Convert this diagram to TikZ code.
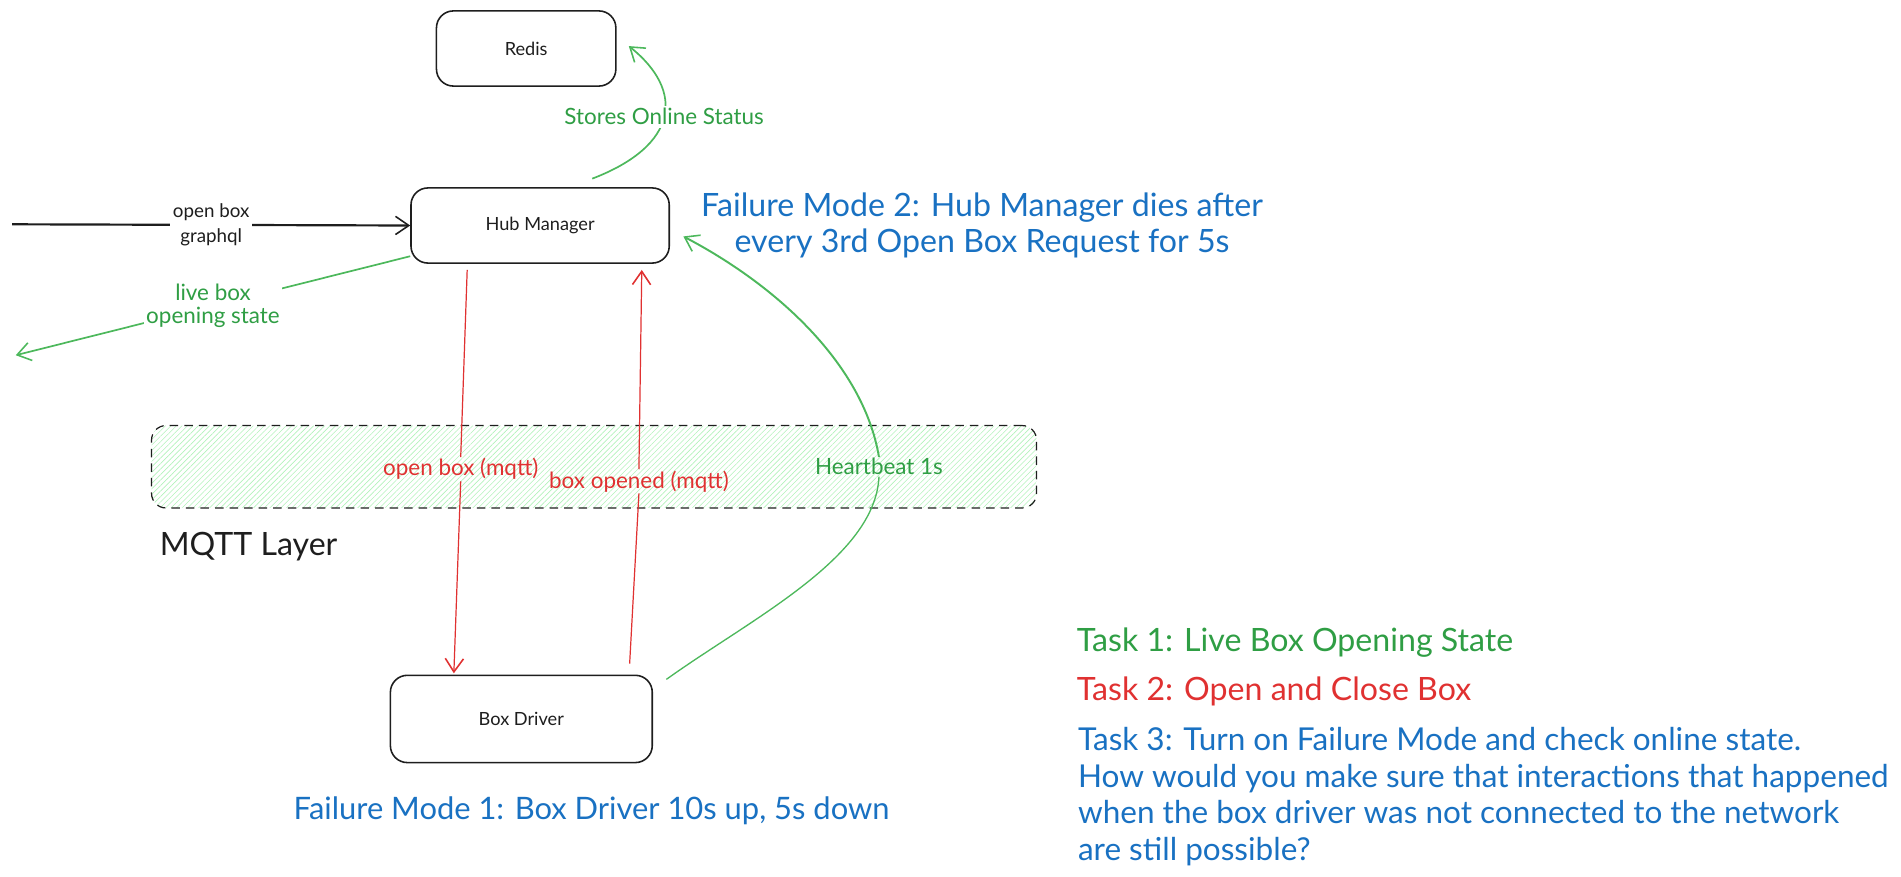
\documentclass[tikz,border=0pt]{standalone}
\usepackage{fontspec}
\setmainfont{Lato}
\usetikzlibrary{arrows.meta,patterns.meta}
\definecolor{strokec}{HTML}{1E1E1E}
\definecolor{tgreen}{HTML}{2F9E44}
\definecolor{lgreen}{HTML}{4DB85C}
\definecolor{tred}{HTML}{E03131}
\definecolor{tblue}{HTML}{1971C2}
\definecolor{hatchc}{HTML}{B2F2BB}
\begin{document}
\begin{tikzpicture}[x=1pt,y=-1pt,
  box/.style={draw=strokec, line width=1.3pt, rounded corners=14pt, fill=white,
    font=\fontsize{15}{18}\selectfont, text=strokec},
  barb/.style={-{Straight Barb[length=11pt,width=15pt,line width=1.3pt]}},
  lbl/.style={font=\fontsize{18.5}{21}\selectfont, align=center, inner sep=2pt},
  smalllbl/.style={font=\fontsize{15.5}{21}\selectfont, align=center, inner sep=2pt},
  bigtxt/.style={font=\fontsize{26.5}{30}\selectfont, inner sep=0pt},
]
\useasboundingbox (0,0) rectangle (1568,723);

% MQTT layer
\node[draw=strokec, dashed, dash pattern=on 7pt off 5pt, line width=1pt, rounded corners=12pt,
  pattern={Lines[angle=45,distance=3.2pt,line width=0.5pt]}, pattern color=hatchc,
  minimum width=730pt, minimum height=68pt] (mqtt) at (490,385) {};
\node[font=\fontsize{26.5}{30}\selectfont, text=strokec, inner sep=0pt] (mqttlbl) at (205,451) {MQTT Layer};

% boxes
\node[box, minimum width=148pt, minimum height=62pt] (redis) at (434,40) {Redis};
\node[box, minimum width=213pt, minimum height=62pt] (hub) at (445.5,186) {Hub Manager};
\node[box, minimum width=216pt, minimum height=72pt] (driver) at (430,593) {Box Driver};

% open box graphql input
\coordinate (in) at (10,185);
\draw[strokec, line width=1.8pt, barb] (in) -- node[smalllbl, fill=white, text=strokec] {open box\\graphql} (hub.west);

% live box opening state
\coordinate (liveout) at (13,293);
\draw[lgreen, line width=1.4pt, barb] ([yshift=-57pt]hub.north west) -- node[lbl, fill=white, text=tgreen] {live box\\[-2pt]opening state} (liveout);

% stores online status
\draw[lgreen, line width=1.4pt, barb] ([xshift=43pt,yshift=7pt]hub.north)
  .. controls (560,120) and (565,75) .. node[lbl, fill=white, text=tgreen, pos=0.5] {Stores Online Status} ([xshift=10pt,yshift=2pt]redis.east);

% open box (mqtt)
\node[lbl, text=tred, inner sep=1pt] (omb) at (380,387) {open box (mqtt)};
\draw[tred, line width=1pt] ([xshift=47pt,yshift=-5pt]hub.south west) -- (omb.north);
\draw[tred, line width=1pt, barb] (omb.south) -- ([xshift=53pt,yshift=1pt]driver.north west);

% box opened (mqtt)
\node[lbl, text=tred, inner sep=1pt] (bom) at (527,397) {box opened (mqtt)};
\draw[tred, line width=1pt] ([xshift=198pt,yshift=9pt]driver.north west) -- (bom.south);
\draw[tred, line width=1pt, barb] (bom.north) -- ([xshift=191pt,yshift=-5pt]hub.south west);

% heartbeat
\node[lbl, text=tgreen, inner sep=1pt] (hb) at (725,385) {Heartbeat 1s};
\draw[lgreen, line width=1.1pt] ([xshift=11pt,yshift=-4pt]driver.north east)
  .. controls (620,510) and (722,460) .. (hb.south);
\draw[lgreen, line width=1.6pt, barb] (hb.north)
  .. controls (712,300) and (640,235) .. ([xshift=11pt,yshift=-9pt]hub.east);

% failure modes
\node[bigtxt, text=tblue, align=center] (fm2) at (810,186) {Failure Mode 2: Hub Manager dies after\\every 3rd Open Box Request for 5s};
\node[bigtxt, text=tblue, font=\fontsize{25.5}{30}\selectfont] (fm1) at (488,669) {Failure Mode 1: Box Driver 10s up, 5s down};

% tasks
\node[bigtxt, text=tgreen, anchor=west] (t1) at (888,530) {Task 1: Live Box Opening State};
\node[bigtxt, text=tred, anchor=west] (t2) at (888,570) {Task 2: Open and Close Box};
\node[bigtxt, text=tblue, anchor=north west, align=left, font=\fontsize{26}{30}\selectfont] (t3) at (889,600)
 {Task 3: Turn on Failure Mode and check online state.\\How would you make sure that interactions that happened\\when the box driver was not connected to the network\\are still possible?};
\end{tikzpicture}
\end{document}
